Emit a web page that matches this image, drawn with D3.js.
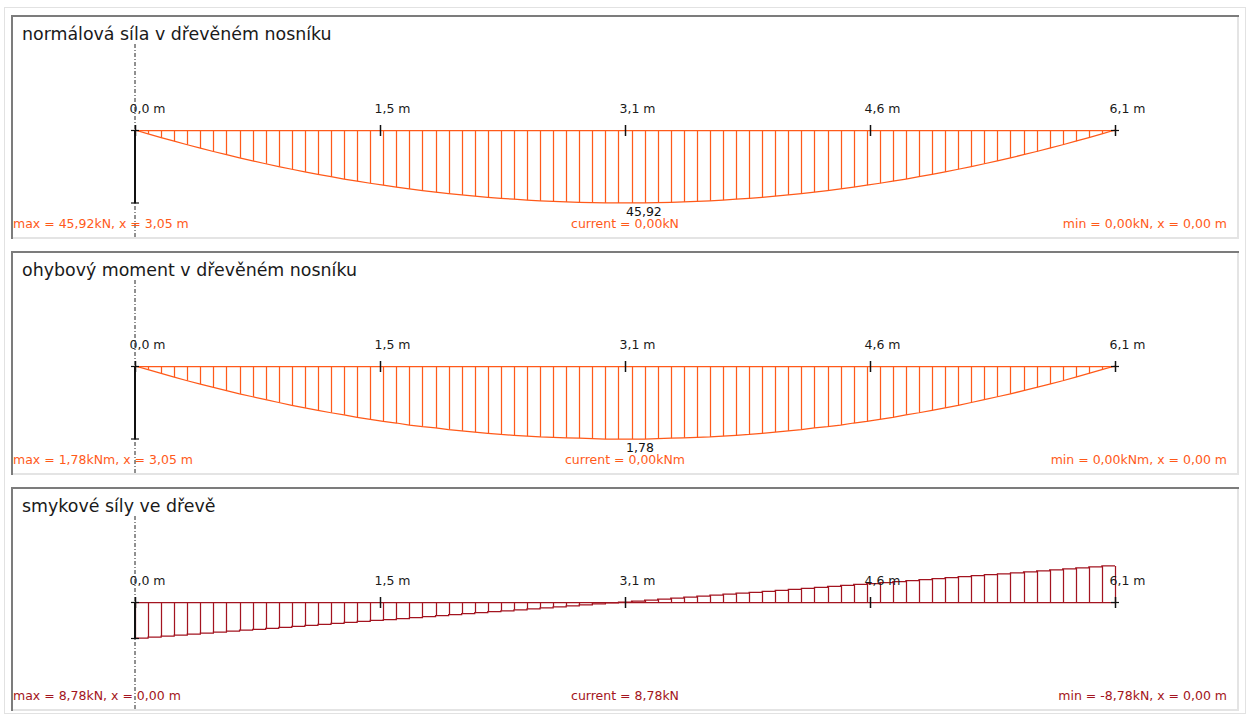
<!DOCTYPE html>
<html>
<head>
<meta charset="utf-8">
<script src="https://cdn.jsdelivr.net/npm/d3@7"></script>
<style>
  html, body { margin: 0; padding: 0; background: #ffffff; }
  svg { display: block; }
  text { font-family: "DejaVu Sans", Verdana, sans-serif; }
</style>
</head>
<body>
<svg id="chart" width="1250" height="715"></svg>
<script>
// ---------- data ----------
const beamLength = 6.1;
const tickValues = [0, 1.525, 3.05, 4.575, 6.1];
const tickLabels = ["0,0 m", "1,5 m", "3,1 m", "4,6 m", "6,1 m"];

const panelTitles = [
  "normálová síla v dřevěném nosníku",
  "ohybový moment v dřevěném nosníku",
  "smykové síly ve dřevě"
];
const maxLabels = ["max = 45,92kN, x = 3,05 m", "max = 1,78kNm, x = 3,05 m", "max = 8,78kN, x = 0,00 m"];
const currentLabels = ["current = 0,00kN", "current = 0,00kNm", "current = 8,78kN"];
const minLabels = ["min = 0,00kN, x = 0,00 m", "min = 0,00kNm, x = 0,00 m", "min = -8,78kN, x = 0,00 m"];
const peakLabels = ["45,92", "1,78", null];
const peakValues = [45.92, 1.78, 8.78];
const peakX = [3.05, 3.05, 0];

// normal force at 76 stations (kN)
const normalValues = [0, 2.42, 4.77, 7.05, 9.27, 11.43, 13.52, 15.54, 17.50, 19.40, 21.23, 22.99, 24.69,
  26.32, 27.89, 29.39, 30.83, 32.20, 33.50, 34.74, 35.92, 37.03, 38.08, 39.05, 39.97, 40.82, 41.60,
  42.32, 42.97, 43.56, 44.08, 44.54, 44.93, 45.26, 45.52, 45.72, 45.85, 45.91,
  45.91, 45.85, 45.72, 45.52, 45.26, 44.93, 44.54, 44.08, 43.56, 42.97, 42.32, 41.60, 40.82, 39.97,
  39.05, 38.08, 37.03, 35.92, 34.74, 33.50, 32.20, 30.83, 29.39, 27.89, 26.32, 24.69, 22.99, 21.23,
  19.40, 17.50, 15.54, 13.52, 11.43, 9.27, 7.05, 4.77, 2.42, 0];

// bending moment at 76 stations (kNm)
const momentValues = [0, 0.09, 0.18, 0.27, 0.36, 0.44, 0.52, 0.60, 0.68, 0.75, 0.82, 0.89, 0.96,
  1.02, 1.08, 1.14, 1.19, 1.25, 1.30, 1.35, 1.39, 1.44, 1.48, 1.51, 1.55, 1.58, 1.61,
  1.64, 1.67, 1.69, 1.71, 1.73, 1.74, 1.75, 1.76, 1.77, 1.78, 1.78,
  1.78, 1.78, 1.77, 1.76, 1.75, 1.74, 1.73, 1.71, 1.69, 1.67, 1.64, 1.61, 1.58, 1.55,
  1.51, 1.48, 1.44, 1.39, 1.35, 1.30, 1.25, 1.19, 1.14, 1.08, 1.02, 0.96, 0.89, 0.82,
  0.75, 0.68, 0.60, 0.52, 0.44, 0.36, 0.27, 0.18, 0.09, 0];

// shear force for 75 intervals (kN)
const shearValues = [8.66, 8.43, 8.20, 7.96, 7.73, 7.49, 7.26, 7.02, 6.79, 6.56, 6.32, 6.09, 5.85,
  5.62, 5.39, 5.15, 4.92, 4.68, 4.45, 4.21, 3.98, 3.75, 3.51, 3.28, 3.04, 2.81, 2.58, 2.34, 2.11,
  1.87, 1.64, 1.40, 1.17, 0.94, 0.70, 0.47, 0.23, 0.00,
  -0.23, -0.47, -0.70, -0.94, -1.17, -1.40, -1.64, -1.87, -2.11, -2.34, -2.58, -2.81, -3.04, -3.28,
  -3.51, -3.75, -3.98, -4.21, -4.45, -4.68, -4.92, -5.15, -5.39, -5.62, -5.85, -6.09, -6.32, -6.56,
  -6.79, -7.02, -7.26, -7.49, -7.73, -7.96, -8.20, -8.43, -8.66];

// ---------- layout / style ----------
const panelTops = [15, 251, 487];
const panelHeight = 224;
const panelLeft = 11, panelRight = 1239;
const diagramDepth = [73, 73, 36.5];
const colors = ["#ff5a1a", "#ff5a1a", "#a31420"];
const seriesList = [normalValues, momentValues, shearValues];
const stepped = [false, false, true];

const svg = d3.select("#chart");
const x = d3.scaleLinear().domain([0, beamLength]).range([135, 1115]);

// outer frame
svg.append("rect").attr("x", 4.5).attr("y", 7.5).attr("width", 1241).attr("height", 706)
  .attr("fill", "#fff").attr("stroke", "#e2e2e2").attr("stroke-width", 1);

panelTitles.forEach((title, p) => {
  const top = panelTops[p];
  const bottom = top + panelHeight;
  const base = top + 115;
  const color = colors[p];
  const values = seriesList[p];
  const g = svg.append("g");

  // panel background + sunken borders
  g.append("rect").attr("x", panelLeft).attr("y", top).attr("width", panelRight - panelLeft)
    .attr("height", panelHeight).attr("fill", "#fff");
  g.append("line").attr("x1", panelLeft).attr("x2", panelRight).attr("y1", top + 1).attr("y2", top + 1)
    .attr("stroke", "#7c7c7c").attr("stroke-width", 2);
  g.append("line").attr("x1", panelLeft + 1).attr("x2", panelLeft + 1).attr("y1", top).attr("y2", bottom)
    .attr("stroke", "#7c7c7c").attr("stroke-width", 2);
  g.append("line").attr("x1", panelRight - 1).attr("x2", panelRight - 1).attr("y1", top + 2).attr("y2", bottom)
    .attr("stroke", "#e4e4e4").attr("stroke-width", 2);
  g.append("line").attr("x1", panelLeft + 2).attr("x2", panelRight).attr("y1", bottom - 1).attr("y2", bottom - 1)
    .attr("stroke", "#e4e4e4").attr("stroke-width", 2);

  // title
  g.append("text").attr("x", 22).attr("y", top + 24.5).attr("font-size", 17.4)
    .attr("fill", "#1a1a1a").text(title);

  // dash-dot reference line
  g.append("line").attr("x1", x(0)).attr("x2", x(0)).attr("y1", top + 29).attr("y2", bottom)
    .attr("stroke", "#222").attr("stroke-width", 1).attr("stroke-dasharray", "4,2,1,2");

  const y = d3.scaleLinear().domain([0, peakValues[p]]).range([base, base + diagramDepth[p]]);

  // diagram
  const dg = g.append("g").attr("stroke", color).attr("fill", "none").attr("stroke-width", 1.25);
  if (!stepped[p]) {
    const stations = d3.range(values.length).map(i => i * beamLength / (values.length - 1));
    dg.selectAll("line.hatch").data(values).join("line").attr("class", "hatch")
      .attr("x1", (d, i) => Math.round(x(stations[i])) + 0.5).attr("x2", (d, i) => Math.round(x(stations[i])) + 0.5)
      .attr("y1", y(0)).attr("y2", d => y(d));
    dg.append("path").attr("d", d3.line().x((d, i) => x(stations[i])).y(d => y(d))(values));
  } else {
    const n = values.length;
    const stations = d3.range(n + 1).map(i => i * beamLength / n);
    const pts = values.map((v, i) => [stations[i], v]).concat([[stations[n], values[n - 1]]]);
    dg.selectAll("line.hatch").data(pts).join("line").attr("class", "hatch")
      .attr("x1", d => Math.round(x(d[0])) + 0.5).attr("x2", d => Math.round(x(d[0])) + 0.5)
      .attr("y1", y(0)).attr("y2", d => y(d[1]));
    dg.append("path").attr("d", d3.line().x(d => x(d[0])).y(d => y(d[1])).curve(d3.curveStepAfter)(pts));
  }
  // baseline in diagram colour
  dg.append("line").attr("x1", x(0)).attr("x2", x(beamLength)).attr("y1", base + 0.5).attr("y2", base + 0.5);

  // x axis ticks + labels
  const axis = d3.axisTop(x).tickValues(tickValues).tickFormat((d, i) => tickLabels[i]).tickSizeOuter(0);
  const ag = g.append("g").attr("transform", `translate(0,${base})`).call(axis);
  ag.select(".domain").remove();
  ag.selectAll(".tick line").attr("y1", -5).attr("y2", 6).attr("stroke", "#111").attr("stroke-width", 1.5);
  ag.selectAll(".tick text").attr("x", -6).attr("y", -17.5).attr("dy", null)
    .attr("text-anchor", "start").attr("font-size", 12.5).attr("font-family", "DejaVu Sans")
    .attr("fill", "#1a1a1a");
  // cross marks at the supports
  [0, beamLength].forEach(v => {
    g.append("line").attr("x1", x(v) - 4).attr("x2", x(v) + 4).attr("y1", base + 0.5).attr("y2", base + 0.5)
      .attr("stroke", "#111").attr("stroke-width", 1.2);
  });

  // value (vertical) scale bar
  const yAxis = d3.axisLeft(y).tickValues([0, peakValues[p]]).tickSize(0).tickFormat("");
  const yg = g.append("g").attr("transform", `translate(${x(0)},0)`).call(yAxis);
  yg.select(".domain").attr("stroke", "#111").attr("stroke-width", 2).attr("d", `M0,${y(0)}V${y(peakValues[p])}`);
  yg.append("line").attr("x1", -4).attr("x2", 4).attr("y1", y(peakValues[p])).attr("y2", y(peakValues[p]))
    .attr("stroke", "#111").attr("stroke-width", 1.2);

  // peak value label
  if (peakLabels[p]) {
    g.append("text").attr("x", x(peakX[p]) + 1).attr("y", y(peakValues[p]) + 12.5)
      .attr("font-size", 12.5).attr("fill", "#111").text(peakLabels[p]);
  }

  // info labels
  const infoY = top + 212.5;
  g.append("text").attr("x", panelLeft + 2).attr("y", infoY).attr("font-size", 12.5).attr("fill", color)
    .text(maxLabels[p]);
  g.append("text").attr("x", (panelLeft + panelRight) / 2).attr("y", infoY).attr("text-anchor", "middle")
    .attr("font-size", 12.5).attr("fill", color).text(currentLabels[p]);
  g.append("text").attr("x", panelRight - 12).attr("y", infoY).attr("text-anchor", "end")
    .attr("font-size", 12.5).attr("fill", color).text(minLabels[p]);
});
</script>
</body>
</html>
